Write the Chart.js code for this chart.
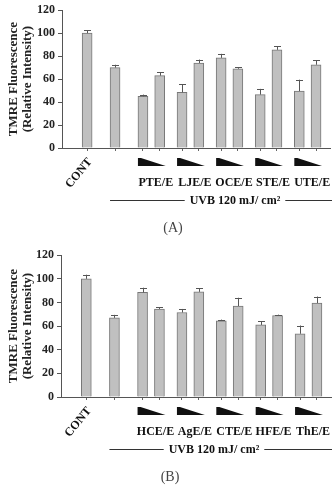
<!DOCTYPE html>
<html>
<head>
<meta charset="utf-8">
<script src="https://cdn.jsdelivr.net/npm/chart.js@4.4.1/dist/chart.umd.min.js"></script>
<style>
  html, body { margin: 0; padding: 0; background: #fff; }
  .box { position: relative; width: 335px; }
  #boxA { height: 245px; }
  #boxB { height: 243px; }
</style>
</head>
<body>
<div class="box" id="boxA"><canvas id="chartA"></canvas></div>
<div class="box" id="boxB"><canvas id="chartB"></canvas></div>
<script>
// ---- data ----
const yTicks = [0, 20, 40, 60, 80, 100, 120];
const yTitle = ['TMRE Fluorescence', '(Relative Intensity)'];
const uvbLabel = 'UVB 120 mJ/ cm\u00B2';

const groupsA = ['PTE/E', 'LJE/E', 'OCE/E', 'STE/E', 'UTE/E'];
// order: CONT, UVB, then two doses per group
const valuesA = [100, 70, 45, 63, 48.5, 74, 78.5, 69, 46.5, 85.5, 49.5, 72.5];
const errorsA = [2.5, 2.5, 1.5, 3, 7, 3, 3.5, 1.5, 5, 3, 10, 4];

const groupsB = ['HCE/E', 'AgE/E', 'CTE/E', 'HFE/E', 'ThE/E'];
const valuesB = [100, 67, 88.5, 74.5, 71.5, 89, 64.5, 77, 61, 69, 53.5, 79.5];
const errorsB = [3.5, 2.5, 4, 1.5, 3, 3, 1, 7, 3, 0.7, 7, 5.5];

// ---- layout (slot grid on the category axis) ----
const SLOT_COUNT = 48;
const barSlots = [4, 9, 14, 17, 21, 24, 28, 31, 35, 38, 42, 45];

function buildSlots(values) {
  const labels = new Array(SLOT_COUNT).fill('');
  const data = new Array(SLOT_COUNT).fill(null);
  const err = new Array(SLOT_COUNT).fill(null);
  barSlots.forEach((s, i) => { labels[s] = 'b' + i; data[s] = values[i]; });
  return { labels, data };
}

const serif = "'Liberation Serif', 'DejaVu Serif', serif";

const errorBarPlugin = {
  id: 'errbars',
  afterDatasetsDraw(chart, args, opts) {
    const ctx = chart.ctx;
    const meta = chart.getDatasetMeta(0);
    const ys = chart.scales.y;
    ctx.save();
    ctx.strokeStyle = '#555';
    ctx.lineWidth = 1;
    barSlots.forEach((s, i) => {
      const el = meta.data[s];
      if (!el) return;
      const v = opts.values[i], e = opts.errors[i];
      const top = ys.getPixelForValue(v + e);
      const x = Math.round(el.x) + 0.5;
      ctx.beginPath();
      ctx.moveTo(x, el.y);
      ctx.lineTo(x, top);
      ctx.moveTo(x - 3.5, Math.round(top) + 0.5);
      ctx.lineTo(x + 3.5, Math.round(top) + 0.5);
      ctx.stroke();
    });
    ctx.restore();
  }
};

const annotPlugin = {
  id: 'annot',
  afterDraw(chart, args, o) {
    const ctx = chart.ctx;
    const meta = chart.getDatasetMeta(0);
    const axisY = chart.scales.y.getPixelForValue(0);
    const bx = i => meta.data[barSlots[i]].x;
    ctx.save();
    ctx.fillStyle = '#111';
    // CONT rotated
    ctx.save();
    ctx.translate(bx(0) + 3, axisY + 12);
    ctx.rotate(-50 * Math.PI / 180);
    ctx.font = 'bold 12px ' + serif;
    ctx.textAlign = 'right';
    ctx.textBaseline = 'middle';
    ctx.fillText('CONT', 0, 0);
    ctx.restore();
    // wedges + group labels
    o.groups.forEach((g, k) => {
      const x1 = bx(2 + 2 * k) - 5, x2 = bx(3 + 2 * k) + 6;
      const t = axisY + 10, b = axisY + 18;
      ctx.beginPath();
      ctx.moveTo(x1, t);
      ctx.lineTo(x1 + 3, t);
      ctx.lineTo(x2, b);
      ctx.lineTo(x1, b);
      ctx.closePath();
      ctx.fill();
      ctx.font = 'bold 12px ' + serif;
      ctx.textAlign = 'center';
      ctx.textBaseline = 'middle';
      ctx.fillText(g, (x1 + x2) / 2 + 4, axisY + 35);
    });
    // UVB line
    const ly = Math.round(axisY + 52) + 0.5;
    ctx.font = 'bold 12px ' + serif;
    const tw = ctx.measureText(uvbLabel).width;
    const left = bx(1) - 5, right = 332;
    ctx.strokeStyle = '#333';
    ctx.lineWidth = 1;
    ctx.beginPath();
    ctx.moveTo(left, ly); ctx.lineTo(o.uvbX - tw / 2 - 5, ly);
    ctx.moveTo(o.uvbX + tw / 2 + 5, ly); ctx.lineTo(right, ly);
    ctx.stroke();
    ctx.textAlign = 'center';
    ctx.textBaseline = 'middle';
    ctx.fillText(uvbLabel, o.uvbX, ly);
    // panel label
    ctx.font = '14px ' + serif;
    ctx.fillStyle = '#444';
    ctx.fillText(o.panel, o.panelX, axisY + 80);
    ctx.restore();
  }
};

function makeChart(id, values, errors, groups, cfg) {
  const s = buildSlots(values);
  return new Chart(document.getElementById(id), {
    type: 'bar',
    data: {
      labels: s.labels,
      datasets: [{
        data: s.data,
        backgroundColor: '#c0c0c0',
        borderColor: '#777',
        borderWidth: 1,
        barThickness: 10
      }]
    },
    options: {
      responsive: true,
      maintainAspectRatio: false,
      animation: false,
      layout: { padding: { top: cfg.top, right: cfg.right, bottom: cfg.bottom, left: 0 } },
      plugins: {
        legend: { display: false },
        tooltip: { enabled: false },
        errbars: { values, errors },
        annot: { groups, uvbX: cfg.uvbX, panel: cfg.panel, panelX: cfg.panelX }
      },
      scales: {
        x: {
          offset: true,
          ticks: { display: false },
          grid: {
            display: true,
            drawOnChartArea: false,
            offset: false,
            tickLength: 3,
            color: c => (s.labels[c.index] ? '#666' : 'rgba(0,0,0,0)')
          },
          border: { display: true, color: '#555', width: 1 }
        },
        y: {
          min: 0,
          max: 120,
          afterBuildTicks: sc => { sc.ticks = yTicks.map(v => ({ value: v })); },
          afterFit: sc => { sc.width = cfg.axisX; },
          ticks: {
            color: '#222',
            padding: 3,
            font: { family: serif, size: 12, weight: 'bold' }
          },
          grid: { drawOnChartArea: false, tickLength: 4, color: '#555' },
          border: { display: true, color: '#555', width: 1 },
          title: {
            display: true,
            text: yTitle,
            color: '#222',
            padding: { top: 7, bottom: 0 },
            font: { family: serif, size: 13, weight: 'bold', lineHeight: 1.08 }
          }
        }
      }
    },
    plugins: [errorBarPlugin, annotPlugin]
  });
}

makeChart('chartA', valuesA, errorsA, groupsA,
  { top: 5, right: 5, bottom: 94, axisX: 62, uvbX: 235, panel: '(A)', panelX: 173 });
makeChart('chartB', valuesB, errorsB, groupsB,
  { top: 7, right: 4, bottom: 88, axisX: 61, uvbX: 214, panel: '(B)', panelX: 170 });
</script>
</body>
</html>
